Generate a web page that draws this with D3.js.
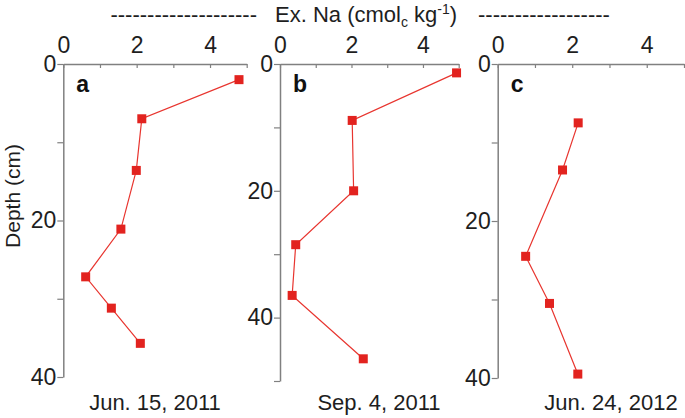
<!DOCTYPE html>
<html>
<head>
<meta charset="utf-8">
<script src="https://cdn.jsdelivr.net/npm/d3@7"></script>
<style>
  body { margin: 0; background: #fff; }
  svg { display: block; }
</style>
</head>
<body>
<div id="chart"></div>
<script>
// Ex. Na profiles
const depthA = [2, 7, 13.6, 21.1, 27.2, 31.2, 35.7];
const naA = [4.79, 2.14, 1.99, 1.57, 0.61, 1.31, 2.10];
const depthB = [1.4, 8.9, 20.0, 28.5, 36.5, 46.5];
const naB = [4.94, 2.02, 2.06, 0.44, 0.34, 2.33];
const depthC = [7.5, 13.5, 24.5, 30.5, 39.5];
const naC = [2.16, 1.74, 0.75, 1.39, 2.15];

const panelLetters = ["a", "b", "c"];
const dateLabels = ["Jun. 15, 2011", "Sep. 4, 2011", "Jun. 24, 2012"];
const xTicks = [0, 1, 2, 3, 4, 5];
const xTickLabels = [0, 2, 4];
const yMaxes = [40, 50, 40];

const W = 685, H = 418;
const font = "'Liberation Sans', Arial, Helvetica, sans-serif";
const axisCol = "#808080";
const textCol = "#1e1e1e";
const red = "#e2231f";

const svg = d3.select("#chart").append("svg")
  .attr("width", W)
  .attr("height", H);

// layout of the three panels
const panels = [
  { depth: depthA, na: naA, x0: 63.3, x1: 246.7, yb: 377, dateX: 155 },
  { depth: depthB, na: naB, x0: 280, x1: 458.7, yb: 381, dateX: 379 },
  { depth: depthC, na: naC, x0: 497.7, x1: 684, yb: 378, dateX: 611 }
];
const yTop = 64;

panels.forEach(function (p, i) {
  const x = d3.scaleLinear().domain([0, 5]).range([p.x0, p.x1]);
  const y = d3.scaleLinear().domain([0, yMaxes[i]]).range([yTop, p.yb]);

  // top axis, ticks pointing in
  const gx = svg.append("g")
    .attr("transform", "translate(0," + yTop + ")")
    .call(d3.axisTop(x)
      .tickValues(xTicks)
      .tickSizeInner(-4)
      .tickSizeOuter(0)
      .tickPadding(11)
      .tickFormat(d => xTickLabels.includes(d) ? d : ""));

  const yt = d3.range(0, yMaxes[i] + 1, 10);
  const gy = svg.append("g")
    .attr("transform", "translate(" + p.x0 + ",0)")
    .call(d3.axisLeft(y)
      .tickValues(yt)
      .tickSizeInner(6)
      .tickSizeOuter(0)
      .tickPadding(1)
      .tickFormat(d => d % 20 === 0 ? d : ""));

  [gx, gy].forEach(g => {
    g.select(".domain").attr("stroke", axisCol).attr("stroke-width", 1.5);
    g.selectAll(".tick line").attr("stroke", axisCol).attr("stroke-width", 1.2);
    g.selectAll(".tick text")
      .attr("fill", textCol)
      .style("font-family", font)
      .style("font-size", "23px");
  });

  // the line and squares
  const pts = p.depth.map((d, k) => ({ depth: d, na: p.na[k] }));
  svg.append("path")
    .datum(pts)
    .attr("fill", "none")
    .attr("stroke", "#e8352f")
    .attr("stroke-width", 1.2)
    .attr("d", d3.line()
      .x(d => x(d.na))
      .y(d => y(d.depth)));

  svg.selectAll(null)
    .data(pts)
    .enter().append("rect")
    .attr("x", d => x(d.na) - 4.5)
    .attr("y", d => y(d.depth) - 4.5)
    .attr("width", 9)
    .attr("height", 9)
    .attr("fill", red);

  svg.append("text")
    .attr("x", p.x0 + 13)
    .attr("y", 92)
    .attr("fill", "#111")
    .style("font-family", font)
    .style("font-weight", "bold")
    .style("font-size", "23px")
    .text(panelLetters[i]);

  svg.append("text")
    .attr("x", p.dateX)
    .attr("y", 410)
    .attr("text-anchor", "middle")
    .attr("fill", textCol)
    .style("font-family", font)
    .style("font-size", "22px")
    .text(dateLabels[i]);
});

// y title
svg.append("text")
  .attr("transform", "translate(20,196) rotate(-90)")
  .attr("text-anchor", "middle")
  .attr("fill", textCol)
  .style("font-family", font)
  .style("font-size", "21px")
  .text("Depth (cm)");

// top title with dashes
const tStyle = sel => sel.attr("fill", textCol)
  .style("font-family", font)
  .style("font-size", "22px");

svg.append("text")
  .attr("x", 257).attr("y", 22)
  .attr("text-anchor", "end")
  .call(tStyle)
  .text("--------------------");

const title = svg.append("text")
  .attr("x", 275).attr("y", 22)
  .call(tStyle);
title.append("tspan").text("Ex. Na (cmol");
title.append("tspan").attr("dy", 5).style("font-size", "14px").text("c");
title.append("tspan").attr("dy", -5).text(" kg");
title.append("tspan").attr("dy", -8).style("font-size", "14px").text("-1");
title.append("tspan").attr("dy", 8).text(")");

svg.append("text")
  .attr("x", 478).attr("y", 22)
  .call(tStyle)
  .text("------------------");
</script>
</body>
</html>
